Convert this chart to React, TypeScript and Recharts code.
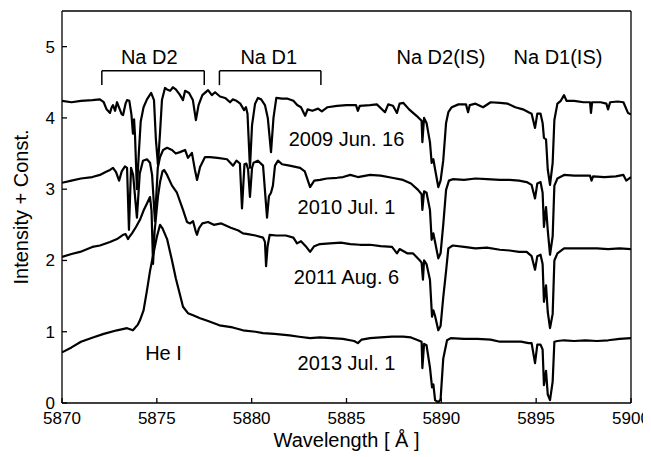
import {
  LineChart,
  Line,
  XAxis,
  YAxis,
  ReferenceLine,
  ReferenceDot,
} from "recharts";

// [wavelength (Å), intensity + const]
const spec2009: [number, number][] = [
  [5870.0, 4.24], [5870.5, 4.22], [5871.0, 4.24], [5871.6, 4.25], [5872.0, 4.26], [5872.2, 4.22],
  [5872.35, 4.12], [5872.53, 4.07], [5872.62, 4.15], [5872.69, 4.18], [5872.8, 4.1], [5872.9, 4.22],
  [5873.0, 4.15], [5873.15, 4.05], [5873.22, 4.04], [5873.35, 4.2], [5873.43, 4.25], [5873.55, 4.24],
  [5873.66, 4.05], [5873.74, 3.78], [5873.8, 3.98], [5873.85, 3.75], [5873.95, 3.0], [5874.05, 3.5],
  [5874.15, 3.95], [5874.3, 4.15], [5874.48, 4.26], [5874.7, 4.35], [5874.85, 4.25], [5874.95, 3.7],
  [5875.06, 3.34], [5875.17, 3.8], [5875.27, 4.25], [5875.43, 4.42], [5875.54, 4.4], [5875.7, 4.38],
  [5875.85, 4.43], [5876.0, 4.4], [5876.2, 4.33], [5876.38, 4.25], [5876.49, 4.38], [5876.7, 4.35],
  [5876.9, 4.25], [5877.06, 3.97], [5877.2, 4.18], [5877.4, 4.32], [5877.7, 4.39], [5877.9, 4.32],
  [5878.07, 4.36], [5878.33, 4.3], [5878.6, 4.28], [5878.86, 4.22], [5879.0, 4.26], [5879.2, 4.24],
  [5879.4, 4.2], [5879.6, 4.11], [5879.7, 4.15], [5879.78, 4.06], [5879.91, 3.3], [5880.02, 3.9],
  [5880.18, 4.2], [5880.33, 4.28], [5880.5, 4.26], [5880.7, 4.18], [5880.85, 4.0], [5881.02, 3.52],
  [5881.15, 4.0], [5881.3, 4.28], [5881.6, 4.27], [5881.9, 4.27], [5882.2, 4.24], [5882.4, 4.18],
  [5882.6, 4.15], [5882.82, 4.03], [5882.95, 4.12], [5883.2, 4.1], [5883.5, 4.13], [5883.7, 4.09],
  [5884.0, 4.15], [5884.5, 4.17], [5885.0, 4.18], [5885.5, 4.18], [5885.6, 4.1], [5885.7, 4.17],
  [5886.24, 4.18], [5886.6, 4.19], [5887.03, 4.08], [5887.2, 4.19], [5887.45, 4.17], [5887.66, 4.07],
  [5887.8, 4.2], [5888.0, 4.21], [5888.3, 4.12], [5888.51, 4.07], [5888.77, 4.01], [5888.96, 3.96],
  [5889.0, 3.66], [5889.09, 4.0], [5889.22, 3.93], [5889.4, 3.66], [5889.49, 3.37], [5889.58, 3.42],
  [5889.67, 3.28], [5889.84, 3.03], [5889.96, 3.12], [5890.1, 3.4], [5890.25, 3.93], [5890.37, 4.08],
  [5890.55, 4.15], [5890.9, 4.19], [5891.3, 4.19], [5891.41, 4.08], [5891.5, 4.18], [5891.8, 4.2],
  [5892.2, 4.15], [5892.6, 4.22], [5893.1, 4.21], [5893.5, 4.2], [5893.9, 4.15], [5894.3, 4.12],
  [5894.6, 4.08], [5894.76, 4.06], [5894.94, 3.86], [5895.06, 4.06], [5895.23, 4.06], [5895.34, 3.93],
  [5895.41, 3.72], [5895.52, 3.7], [5895.61, 3.28], [5895.73, 3.06], [5895.87, 3.37], [5895.96, 3.97],
  [5896.12, 4.2], [5896.3, 4.24], [5896.47, 4.32], [5896.6, 4.24], [5897.0, 4.24], [5897.5, 4.22],
  [5897.84, 4.22], [5897.89, 4.07], [5897.95, 4.22], [5898.4, 4.22], [5898.7, 4.2], [5898.79, 4.12],
  [5898.9, 4.22], [5899.3, 4.23], [5899.6, 4.22], [5899.84, 4.07], [5900.0, 4.05],
];

const spec2010: [number, number][] = [
  [5870.0, 3.09], [5870.5, 3.12], [5871.0, 3.15], [5871.6, 3.17], [5872.0, 3.2], [5872.3, 3.24],
  [5872.53, 3.27], [5872.69, 3.3], [5872.85, 3.24], [5873.01, 3.12], [5873.15, 3.25], [5873.32, 3.32],
  [5873.43, 3.3], [5873.53, 2.43], [5873.64, 3.3], [5873.75, 3.2], [5873.95, 2.6], [5874.1, 3.22],
  [5874.27, 3.4], [5874.48, 3.42], [5874.64, 3.37], [5874.75, 3.2], [5874.9, 2.55], [5875.05, 3.3],
  [5875.17, 3.45], [5875.33, 3.55], [5875.54, 3.58], [5875.8, 3.55], [5876.0, 3.5], [5876.22, 3.52],
  [5876.49, 3.55], [5876.64, 3.44], [5876.85, 3.51], [5877.01, 3.27], [5877.12, 3.13], [5877.28, 3.31],
  [5877.54, 3.45], [5877.8, 3.45], [5878.2, 3.44], [5878.7, 3.42], [5879.02, 3.33], [5879.2, 3.4],
  [5879.38, 3.36], [5879.49, 2.73], [5879.62, 3.35], [5879.72, 3.36], [5879.81, 3.28], [5879.91, 2.89],
  [5880.02, 3.3], [5880.1, 3.37], [5880.33, 3.4], [5880.6, 3.33], [5880.81, 2.6], [5880.91, 2.9],
  [5881.02, 2.95], [5881.12, 3.05], [5881.23, 3.33], [5881.39, 3.4], [5881.6, 3.35], [5882.0, 3.33],
  [5882.55, 3.3], [5882.8, 3.25], [5883.08, 3.03], [5883.3, 3.12], [5883.6, 3.13], [5883.97, 3.15],
  [5884.5, 3.16], [5884.82, 3.17], [5885.2, 3.2], [5885.6, 3.17], [5886.24, 3.2], [5886.8, 3.19],
  [5887.4, 3.16], [5887.98, 3.13], [5888.4, 3.08], [5888.77, 2.99], [5888.96, 2.93], [5889.0, 2.71],
  [5889.09, 2.97], [5889.22, 2.95], [5889.4, 2.71], [5889.49, 2.29], [5889.58, 2.38], [5889.67, 2.26],
  [5889.84, 2.03], [5889.96, 2.1], [5890.1, 2.5], [5890.25, 2.99], [5890.4, 3.12], [5890.6, 3.14],
  [5891.2, 3.13], [5891.8, 3.15], [5892.4, 3.14], [5893.09, 3.13], [5893.6, 3.13], [5894.1, 3.12],
  [5894.5, 3.1], [5894.76, 3.06], [5894.94, 2.87], [5895.06, 3.08], [5895.23, 3.1], [5895.34, 2.95],
  [5895.41, 2.47], [5895.52, 2.75], [5895.61, 2.43], [5895.73, 2.08], [5895.87, 2.34], [5895.96, 3.05],
  [5896.12, 3.15], [5896.47, 3.2], [5897.0, 3.19], [5897.6, 3.19], [5897.84, 3.19], [5897.92, 3.12],
  [5898.0, 3.18], [5898.6, 3.17], [5899.2, 3.18], [5899.6, 3.2], [5899.75, 3.12], [5900.0, 3.17],
];

const spec2011: [number, number][] = [
  [5870.0, 2.05], [5870.5, 2.09], [5870.95, 2.12], [5871.6, 2.19], [5872.0, 2.21], [5872.53, 2.26],
  [5872.9, 2.3], [5873.22, 2.36], [5873.35, 2.37], [5873.48, 2.3], [5873.55, 2.33], [5873.69, 2.38],
  [5873.9, 2.47], [5874.11, 2.57], [5874.3, 2.7], [5874.48, 2.8], [5874.64, 2.89], [5874.72, 2.7],
  [5874.8, 1.95], [5874.88, 2.4], [5874.96, 2.62], [5875.06, 2.9], [5875.17, 3.1], [5875.3, 3.25],
  [5875.38, 3.27], [5875.54, 3.2], [5875.8, 3.05], [5876.06, 2.95], [5876.38, 2.71], [5876.59, 2.54],
  [5876.75, 2.52], [5876.91, 2.55], [5877.06, 2.4], [5877.12, 2.36], [5877.22, 2.45], [5877.4, 2.52],
  [5877.7, 2.54], [5878.0, 2.5], [5878.4, 2.52], [5878.9, 2.46], [5879.3, 2.42], [5879.54, 2.38],
  [5879.8, 2.37], [5880.2, 2.35], [5880.6, 2.32], [5880.7, 2.26], [5880.76, 1.92], [5880.84, 2.2],
  [5880.95, 2.36], [5881.3, 2.35], [5881.8, 2.35], [5882.2, 2.32], [5882.39, 2.24], [5882.6, 2.27],
  [5882.85, 2.2], [5883.08, 2.12], [5883.3, 2.2], [5883.6, 2.23], [5884.13, 2.24], [5884.7, 2.25],
  [5885.2, 2.23], [5885.7, 2.22], [5886.24, 2.22], [5886.8, 2.2], [5887.4, 2.19], [5887.66, 2.1],
  [5887.8, 2.16], [5888.2, 2.1], [5888.5, 2.1], [5888.87, 2.0], [5888.96, 1.97], [5889.03, 1.73],
  [5889.09, 2.0], [5889.22, 1.95], [5889.4, 1.73], [5889.51, 1.21], [5889.58, 1.3], [5889.67, 1.22],
  [5889.84, 1.02], [5889.96, 1.08], [5890.1, 1.48], [5890.25, 1.85], [5890.37, 2.17], [5890.6, 2.21],
  [5891.2, 2.19], [5891.8, 2.17], [5892.4, 2.18], [5893.09, 2.15], [5893.6, 2.14], [5894.1, 2.12],
  [5894.5, 2.12], [5894.76, 2.06], [5894.94, 1.87], [5895.06, 2.06], [5895.23, 2.08], [5895.34, 1.95],
  [5895.41, 1.42], [5895.52, 1.65], [5895.61, 1.28], [5895.73, 1.05], [5895.87, 1.25], [5895.96, 2.0],
  [5896.12, 2.1], [5896.47, 2.17], [5897.0, 2.17], [5897.6, 2.17], [5898.2, 2.17], [5898.8, 2.16],
  [5899.4, 2.17], [5900.0, 2.16],
];

const spec2013: [number, number][] = [
  [5870.0, 0.71], [5870.5, 0.78], [5871.0, 0.86], [5871.63, 0.92], [5872.2, 0.97], [5872.9, 1.02],
  [5873.43, 1.05], [5873.74, 1.02], [5874.0, 1.1], [5874.11, 1.16], [5874.3, 1.3], [5874.48, 1.58],
  [5874.64, 1.85], [5874.75, 2.0], [5874.9, 2.2], [5875.0, 2.33], [5875.17, 2.5], [5875.3, 2.45],
  [5875.54, 2.3], [5875.8, 2.0], [5876.0, 1.75], [5876.22, 1.52], [5876.38, 1.35], [5876.64, 1.26],
  [5876.91, 1.23], [5877.28, 1.19], [5877.7, 1.15], [5878.3, 1.09], [5879.0, 1.06], [5879.54, 1.02],
  [5880.2, 1.0], [5880.6, 0.98], [5881.2, 0.97], [5882.0, 0.95], [5882.5, 0.93], [5883.08, 0.91],
  [5883.6, 0.92], [5884.2, 0.91], [5884.8, 0.9], [5885.4, 0.87], [5885.6, 0.84], [5885.8, 0.89],
  [5886.24, 0.91], [5886.8, 0.92], [5887.4, 0.93], [5887.98, 0.93], [5888.4, 0.92], [5888.77, 0.88],
  [5888.96, 0.86], [5889.0, 0.49], [5889.09, 0.83], [5889.22, 0.81], [5889.4, 0.5], [5889.51, 0.22],
  [5889.58, 0.26], [5889.67, 0.04], [5889.84, 0.01], [5889.96, 0.05], [5890.1, 0.62], [5890.3, 0.88],
  [5890.5, 0.91], [5891.2, 0.9], [5891.9, 0.9], [5892.6, 0.89], [5893.09, 0.86], [5893.6, 0.86],
  [5894.2, 0.86], [5894.6, 0.84], [5894.76, 0.84], [5894.94, 0.56], [5895.06, 0.82], [5895.23, 0.82],
  [5895.34, 0.75], [5895.41, 0.25], [5895.52, 0.45], [5895.61, 0.12], [5895.73, 0.04], [5895.87, 0.3],
  [5895.96, 0.86], [5896.12, 0.87], [5896.47, 0.88], [5897.0, 0.87], [5897.6, 0.88], [5898.2, 0.87],
  [5898.8, 0.88], [5899.4, 0.9], [5900.0, 0.91],
];

const xTicks = [5870, 5875, 5880, 5885, 5890, 5895, 5900];
const yTicks = [0, 1, 2, 3, 4, 5];

// epoch labels: [text, wavelength, level]
const epochLabels: [string, number, number][] = [
  ["2009 Jun. 16", 5885.0, 3.7],
  ["2010 Jul. 1", 5885.0, 2.75],
  ["2011 Aug. 6", 5885.0, 1.77],
  ["2013 Jul. 1", 5885.0, 0.56],
];

// line identifications: [text, wavelength, level]
const lineLabels: [string, number, number][] = [
  ["Na D2", 5874.6, 4.85],
  ["Na D1", 5880.9, 4.85],
  ["Na D2(IS)", 5889.98, 4.85],
  ["Na D1(IS)", 5896.15, 4.85],
  ["He I", 5875.35, 0.7],
];

// brackets over the blue-shifted Na components: [from, to]
const naBrackets: [number, number][] = [
  [5872.1, 5877.5],
  [5878.3, 5883.65],
];
const bracketTop = 4.66;
const bracketFoot = 4.46;

const series = [spec2009, spec2010, spec2011, spec2013].map((s) =>
  s.map(([w, v]) => ({ w, v }))
);

const FONT = "'Liberation Sans', Arial, Helvetica, sans-serif";

export default function App() {
  return (
    <LineChart
      width={643}
      height={449}
      margin={{ top: 2, right: 19, left: 0, bottom: 0 }}
      style={{ fontFamily: FONT }}
    >
      <XAxis
        xAxisId={0}
        dataKey="w"
        type="number"
        domain={[5870, 5900]}
        ticks={xTicks}
        allowDataOverflow
        height={54}
        tickSize={-5}
        tickMargin={14}
        stroke="#000"
        strokeWidth={1.3}
        tick={{ fontSize: 17, fill: "#000" }}
        label={{
          value: "Wavelength [ Å ]",
          position: "insideBottom",
          offset: 10,
          style: { fontSize: 20, fill: "#000" },
        }}
      />
      <XAxis
        xAxisId="top"
        orientation="top"
        type="number"
        domain={[5870, 5900]}
        ticks={xTicks}
        height={1}
        tickSize={-5}
        tick={false}
        stroke="#000"
        strokeWidth={1.3}
      />
      <YAxis
        yAxisId={0}
        type="number"
        domain={[0, 5.5]}
        ticks={yTicks}
        allowDataOverflow
        width={54}
        tickSize={-5}
        tickMargin={12}
        stroke="#000"
        strokeWidth={1.3}
        tick={{ fontSize: 17, fill: "#000" }}
        label={{
          content: (props: any) => {
            const vb = props.viewBox;
            const cx = vb.x + 13;
            const cy = vb.y + vb.height / 2;
            return (
              <text
                x={cx}
                y={cy}
                transform={`rotate(-90, ${cx}, ${cy})`}
                textAnchor="middle"
                dominantBaseline="central"
                fontSize={20}
                fill="#000"
              >
                Intensity + Const.
              </text>
            );
          },
        }}
      />
      <YAxis
        yAxisId="right"
        orientation="right"
        type="number"
        domain={[0, 5.5]}
        ticks={yTicks}
        width={1}
        tickSize={-5}
        tick={false}
        stroke="#000"
        strokeWidth={1.3}
      />

      {series.map((d, i) => (
        <Line
          key={i}
          data={d}
          dataKey="v"
          type="linear"
          stroke="#000"
          strokeWidth={2.2}
          strokeLinejoin="round"
          dot={false}
          isAnimationActive={false}
        />
      ))}

      {naBrackets.map(([a, b], i) => [
        <ReferenceLine
          key={`bt${i}`}
          segment={[{ x: a, y: bracketTop }, { x: b, y: bracketTop }]}
          stroke="#000"
          strokeWidth={1.5}
        />,
        <ReferenceLine
          key={`bl${i}`}
          segment={[{ x: a, y: bracketTop }, { x: a, y: bracketFoot }]}
          stroke="#000"
          strokeWidth={1.5}
        />,
        <ReferenceLine
          key={`br${i}`}
          segment={[{ x: b, y: bracketTop }, { x: b, y: bracketFoot }]}
          stroke="#000"
          strokeWidth={1.5}
        />,
      ])}

      {[...lineLabels, ...epochLabels].map(([text, w, v]) => (
        <ReferenceDot
          key={text}
          x={w}
          y={v}
          r={0}
          stroke="none"
          fill="none"
          label={{
            value: text,
            position: "center",
            style: { fontSize: 20, fill: "#000" },
          }}
        />
      ))}
    </LineChart>
  );
}
